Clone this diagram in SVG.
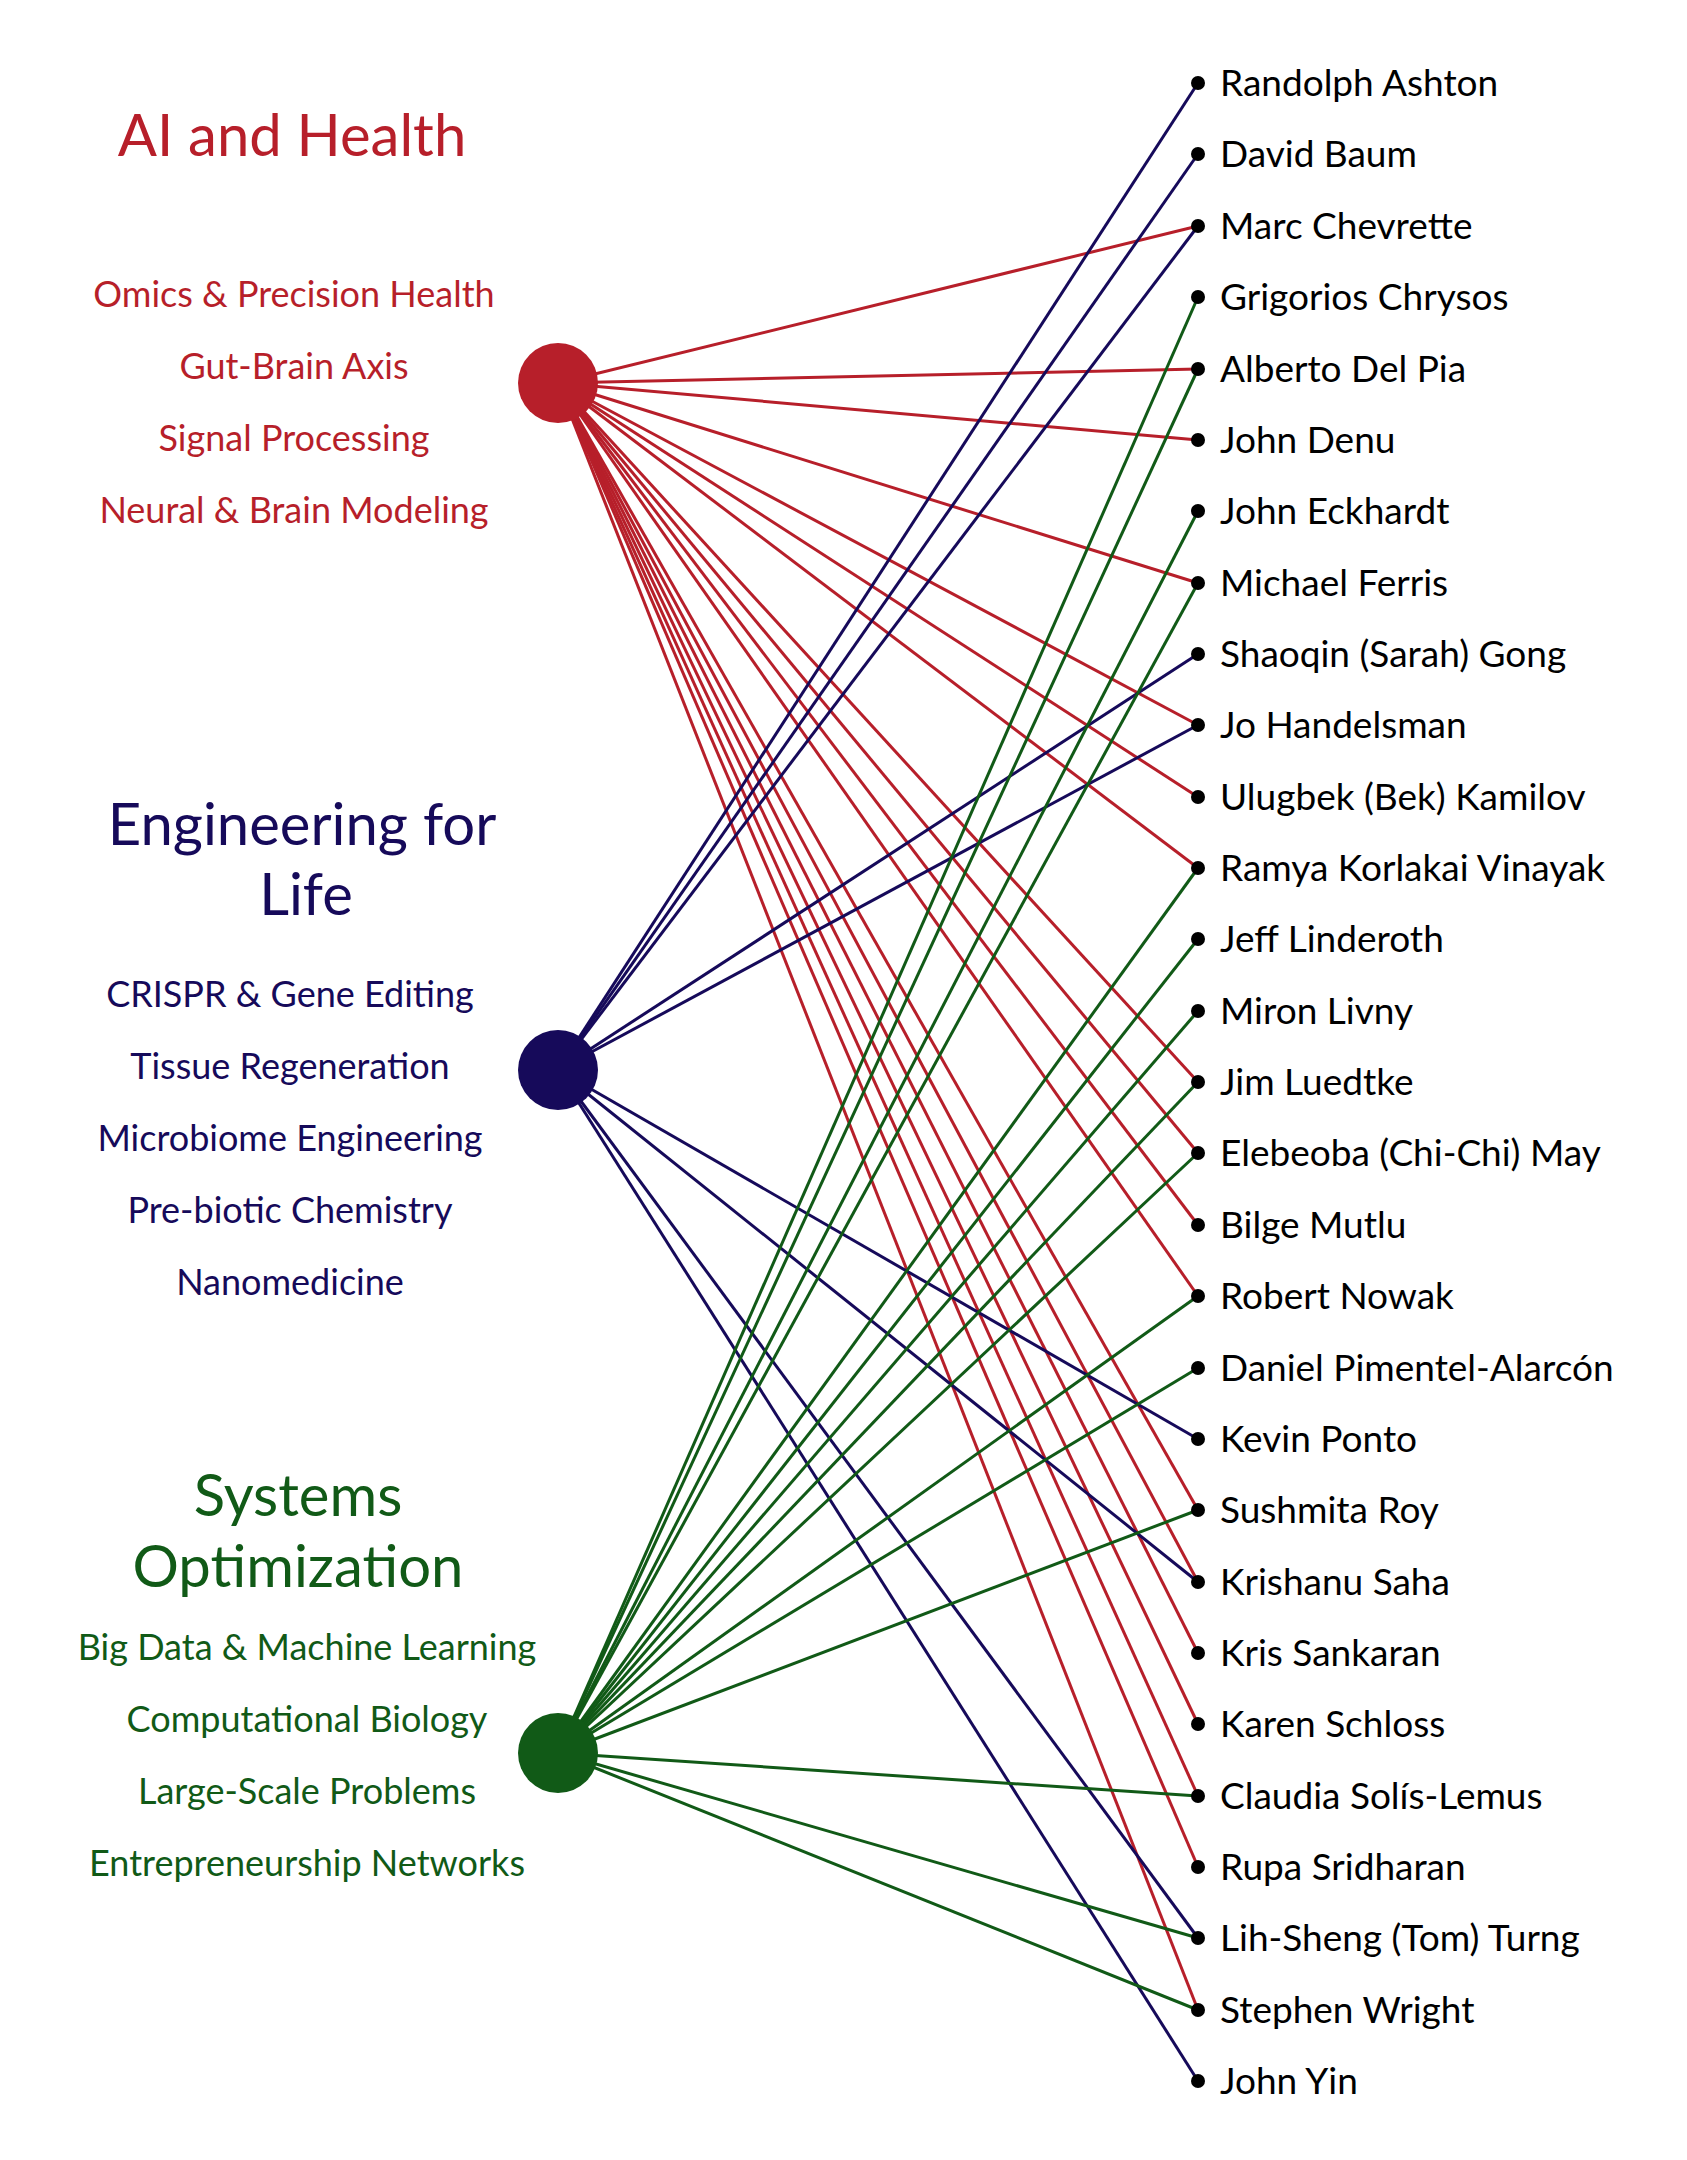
<svg xmlns="http://www.w3.org/2000/svg" width="1687" height="2160" viewBox="0 0 1687 2160">
<style>
text{font-family:Lato,"Open Sans","Liberation Sans",sans-serif}
.r{fill:#B71F2A}.b{fill:#160A5A}.g{fill:#115A17}
.t{font-size:58px;text-anchor:middle}
.s{font-size:36px;text-anchor:middle}
.n{font-size:37px;fill:#000}
.lr{stroke:#B71F2A}.lb{stroke:#160A5A}.lg{stroke:#115A17}
#connectors line{stroke-width:3}
.d{fill:#000}
</style>
<rect width="1687" height="2160" fill="#fff"/>
<g id="connectors">
<g class="lr">
<line x1="558" y1="383" x2="1198" y2="226"/>
<line x1="558" y1="383" x2="1198" y2="369"/>
<line x1="558" y1="383" x2="1198" y2="440"/>
<line x1="558" y1="383" x2="1198" y2="583"/>
<line x1="558" y1="383" x2="1198" y2="725"/>
<line x1="558" y1="383" x2="1198" y2="797"/>
<line x1="558" y1="383" x2="1198" y2="868"/>
<line x1="558" y1="383" x2="1198" y2="1082"/>
<line x1="558" y1="383" x2="1198" y2="1153"/>
<line x1="558" y1="383" x2="1198" y2="1225"/>
<line x1="558" y1="383" x2="1198" y2="1296"/>
<line x1="558" y1="383" x2="1198" y2="1510"/>
<line x1="558" y1="383" x2="1198" y2="1582"/>
<line x1="558" y1="383" x2="1198" y2="1653"/>
<line x1="558" y1="383" x2="1198" y2="1724"/>
<line x1="558" y1="383" x2="1198" y2="1796"/>
<line x1="558" y1="383" x2="1198" y2="1867"/>
<line x1="558" y1="383" x2="1198" y2="2010"/>
</g>
<g class="lb">
<line x1="558" y1="1070" x2="1198" y2="83"/>
<line x1="558" y1="1070" x2="1198" y2="154"/>
<line x1="558" y1="1070" x2="1198" y2="226"/>
<line x1="558" y1="1070" x2="1198" y2="654"/>
<line x1="558" y1="1070" x2="1198" y2="725"/>
<line x1="558" y1="1070" x2="1198" y2="1439"/>
<line x1="558" y1="1070" x2="1198" y2="1582"/>
<line x1="558" y1="1070" x2="1198" y2="1938"/>
<line x1="558" y1="1070" x2="1198" y2="2081"/>
</g>
<g class="lg">
<line x1="558" y1="1753" x2="1198" y2="297"/>
<line x1="558" y1="1753" x2="1198" y2="369"/>
<line x1="558" y1="1753" x2="1198" y2="511"/>
<line x1="558" y1="1753" x2="1198" y2="583"/>
<line x1="558" y1="1753" x2="1198" y2="868"/>
<line x1="558" y1="1753" x2="1198" y2="939"/>
<line x1="558" y1="1753" x2="1198" y2="1011"/>
<line x1="558" y1="1753" x2="1198" y2="1082"/>
<line x1="558" y1="1753" x2="1198" y2="1153"/>
<line x1="558" y1="1753" x2="1198" y2="1296"/>
<line x1="558" y1="1753" x2="1198" y2="1368"/>
<line x1="558" y1="1753" x2="1198" y2="1510"/>
<line x1="558" y1="1753" x2="1198" y2="1796"/>
<line x1="558" y1="1753" x2="1198" y2="1938"/>
<line x1="558" y1="1753" x2="1198" y2="2010"/>
</g>
</g>
<g id="ai">
<text class="t r" x="292" y="156">AI and Health</text>
<text class="s r" x="294" y="307">Omics &amp; Precision Health</text>
<text class="s r" x="294" y="379">Gut-Brain Axis</text>
<text class="s r" x="294" y="451">Signal Processing</text>
<text class="s r" x="294" y="523">Neural &amp; Brain Modeling</text>
<circle class="r" cx="558" cy="383" r="40"/>
</g>
<g id="eng">
<text class="t b" x="302" y="845">Engineering for</text>
<text class="t b" x="306" y="915">Life</text>
<text class="s b" x="290" y="1007">CRISPR &amp; Gene Editing</text>
<text class="s b" x="290" y="1079">Tissue Regeneration</text>
<text class="s b" x="290" y="1151">Microbiome Engineering</text>
<text class="s b" x="290" y="1223">Pre-biotic Chemistry</text>
<text class="s b" x="290" y="1295">Nanomedicine</text>
<circle class="b" cx="558" cy="1070" r="40"/>
</g>
<g id="sys">
<text class="t g" x="298" y="1516">Systems</text>
<text class="t g" x="298" y="1587">Optimization</text>
<text class="s g" x="307" y="1660">Big Data &amp; Machine Learning</text>
<text class="s g" x="307" y="1732">Computational Biology</text>
<text class="s g" x="307" y="1804">Large-Scale Problems</text>
<text class="s g" x="307" y="1876">Entrepreneurship Networks</text>
<circle class="g" cx="558" cy="1753" r="40"/>
</g>
<g id="people">
<g id="p0"><circle class="d" cx="1198" cy="83" r="7"/><text class="n" x="1220" y="96">Randolph Ashton</text></g>
<g id="p1"><circle class="d" cx="1198" cy="154" r="7"/><text class="n" x="1220" y="167">David Baum</text></g>
<g id="p2"><circle class="d" cx="1198" cy="226" r="7"/><text class="n" x="1220" y="239">Marc Chevrette</text></g>
<g id="p3"><circle class="d" cx="1198" cy="297" r="7"/><text class="n" x="1220" y="310">Grigorios Chrysos</text></g>
<g id="p4"><circle class="d" cx="1198" cy="369" r="7"/><text class="n" x="1220" y="382">Alberto Del Pia</text></g>
<g id="p5"><circle class="d" cx="1198" cy="440" r="7"/><text class="n" x="1220" y="453">John Denu</text></g>
<g id="p6"><circle class="d" cx="1198" cy="511" r="7"/><text class="n" x="1220" y="524">John Eckhardt</text></g>
<g id="p7"><circle class="d" cx="1198" cy="583" r="7"/><text class="n" x="1220" y="596">Michael Ferris</text></g>
<g id="p8"><circle class="d" cx="1198" cy="654" r="7"/><text class="n" x="1220" y="667">Shaoqin (Sarah) Gong</text></g>
<g id="p9"><circle class="d" cx="1198" cy="725" r="7"/><text class="n" x="1220" y="738">Jo Handelsman</text></g>
<g id="p10"><circle class="d" cx="1198" cy="797" r="7"/><text class="n" x="1220" y="810">Ulugbek (Bek) Kamilov</text></g>
<g id="p11"><circle class="d" cx="1198" cy="868" r="7"/><text class="n" x="1220" y="881">Ramya Korlakai Vinayak</text></g>
<g id="p12"><circle class="d" cx="1198" cy="939" r="7"/><text class="n" x="1220" y="952">Jeff Linderoth</text></g>
<g id="p13"><circle class="d" cx="1198" cy="1011" r="7"/><text class="n" x="1220" y="1024">Miron Livny</text></g>
<g id="p14"><circle class="d" cx="1198" cy="1082" r="7"/><text class="n" x="1220" y="1095">Jim Luedtke</text></g>
<g id="p15"><circle class="d" cx="1198" cy="1153" r="7"/><text class="n" x="1220" y="1166">Elebeoba (Chi-Chi) May</text></g>
<g id="p16"><circle class="d" cx="1198" cy="1225" r="7"/><text class="n" x="1220" y="1238">Bilge Mutlu</text></g>
<g id="p17"><circle class="d" cx="1198" cy="1296" r="7"/><text class="n" x="1220" y="1309">Robert Nowak</text></g>
<g id="p18"><circle class="d" cx="1198" cy="1368" r="7"/><text class="n" x="1220" y="1381">Daniel Pimentel-Alarcón</text></g>
<g id="p19"><circle class="d" cx="1198" cy="1439" r="7"/><text class="n" x="1220" y="1452">Kevin Ponto</text></g>
<g id="p20"><circle class="d" cx="1198" cy="1510" r="7"/><text class="n" x="1220" y="1523">Sushmita Roy</text></g>
<g id="p21"><circle class="d" cx="1198" cy="1582" r="7"/><text class="n" x="1220" y="1595">Krishanu Saha</text></g>
<g id="p22"><circle class="d" cx="1198" cy="1653" r="7"/><text class="n" x="1220" y="1666">Kris Sankaran</text></g>
<g id="p23"><circle class="d" cx="1198" cy="1724" r="7"/><text class="n" x="1220" y="1737">Karen Schloss</text></g>
<g id="p24"><circle class="d" cx="1198" cy="1796" r="7"/><text class="n" x="1220" y="1809">Claudia Solís-Lemus</text></g>
<g id="p25"><circle class="d" cx="1198" cy="1867" r="7"/><text class="n" x="1220" y="1880">Rupa Sridharan</text></g>
<g id="p26"><circle class="d" cx="1198" cy="1938" r="7"/><text class="n" x="1220" y="1951">Lih-Sheng (Tom) Turng</text></g>
<g id="p27"><circle class="d" cx="1198" cy="2010" r="7"/><text class="n" x="1220" y="2023">Stephen Wright</text></g>
<g id="p28"><circle class="d" cx="1198" cy="2081" r="7"/><text class="n" x="1220" y="2094">John Yin</text></g>
</g>
</svg>
